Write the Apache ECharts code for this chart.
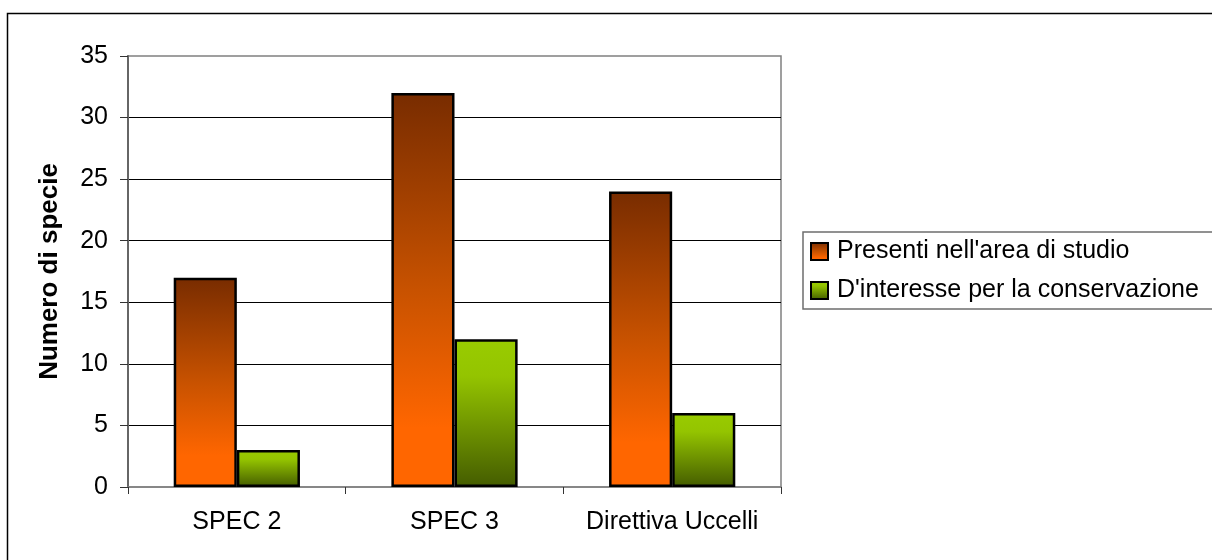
<!DOCTYPE html>
<html>
<head>
<meta charset="utf-8">
<script src="https://cdn.jsdelivr.net/npm/echarts@6/dist/echarts.min.js"></script>
<style>
html,body{margin:0;padding:0;background:#fff;}
#chart{width:1212px;height:560px;}
</style>
</head>
<body>
<div id="chart"></div>
<script>
var categories = ['SPEC 2', 'SPEC 3', 'Direttiva Uccelli'];
var presenti = [17, 32, 24];
var interesse = [3, 12, 6];
var seriesNames = ["Presenti nell'area di studio", "D'interesse per la conservazione"];
var yTicks = { min: 0, max: 35, interval: 5 };
var yAxisTitle = 'Numero di specie';

var FONT = "'Liberation Sans', Arial, sans-serif";
var chart = echarts.init(document.getElementById('chart'));

var orangeGrad = new echarts.graphic.LinearGradient(0, 0, 0, 1, [
  { offset: 0, color: '#782c00' },
  { offset: 0.5, color: '#c85200' },
  { offset: 0.85, color: '#ff6600' },
  { offset: 1, color: '#ff6600' }
]);
var greenGrad = new echarts.graphic.LinearGradient(0, 0, 0, 1, [
  { offset: 0, color: '#99cc00' },
  { offset: 0.25, color: '#94c400' },
  { offset: 1, color: '#445c00' }
]);

chart.setOption({
  animation: false,
  backgroundColor: '#fff',
  graphic: [{
    type: 'rect',
    shape: { x: 7.5, y: 13.5, width: 1400, height: 700 },
    style: { fill: 'none', stroke: '#000', lineWidth: 1.5 },
    silent: true,
    z: -10
  }],
  grid: {
    left: 128, right: 431, top: 56, bottom: 73,
    show: true, borderColor: '#808080', borderWidth: 1.5, backgroundColor: 'transparent'
  },
  legend: {
    orient: 'vertical',
    left: 803, top: 232,
    padding: [7, 30, 6, 7],
    itemGap: 14,
    itemWidth: 17, itemHeight: 17,
    borderColor: '#6e6e6e', borderWidth: 1.5,
    icon: 'rect',
    textStyle: { fontFamily: FONT, fontSize: 25, color: '#000', padding: [0, 0, 0, 4] },
    data: seriesNames
  },
  xAxis: {
    type: 'category',
    data: categories,
    axisLine: { lineStyle: { color: '#808080', width: 1.5 } },
    axisTick: { show: true, length: 7, interval: 0, lineStyle: { color: '#333' } },
    axisLabel: { fontFamily: FONT, fontSize: 25, color: '#000', margin: 23, interval: 0, hideOverlap: false }
  },
  yAxis: {
    type: 'value',
    min: yTicks.min, max: yTicks.max, interval: yTicks.interval,
    name: yAxisTitle,
    nameLocation: 'middle',
    nameGap: 65,
    nameTextStyle: { fontFamily: FONT, fontSize: 26, fontWeight: 'bold', color: '#000' },
    axisLine: { show: true, lineStyle: { color: '#666', width: 2 } },
    axisTick: { show: true, length: 8, lineStyle: { color: '#333' } },
    axisLabel: { fontFamily: FONT, fontSize: 25, color: '#000', margin: 20 },
    splitLine: { show: true, showMinLine: false, showMaxLine: false, lineStyle: { color: '#000', width: 1 } }
  },
  series: [{
    name: seriesNames[0],
    type: 'bar',
    data: presenti,
    barGap: '0%',
    barCategoryGap: '42%',
    itemStyle: { color: orangeGrad, borderColor: '#000', borderWidth: 2.5 }
  }, {
    name: seriesNames[1],
    type: 'bar',
    data: interesse,
    barGap: '0%',
    barCategoryGap: '42%',
    itemStyle: { color: greenGrad, borderColor: '#000', borderWidth: 2.5 }
  }]
});
</script>
</body>
</html>
